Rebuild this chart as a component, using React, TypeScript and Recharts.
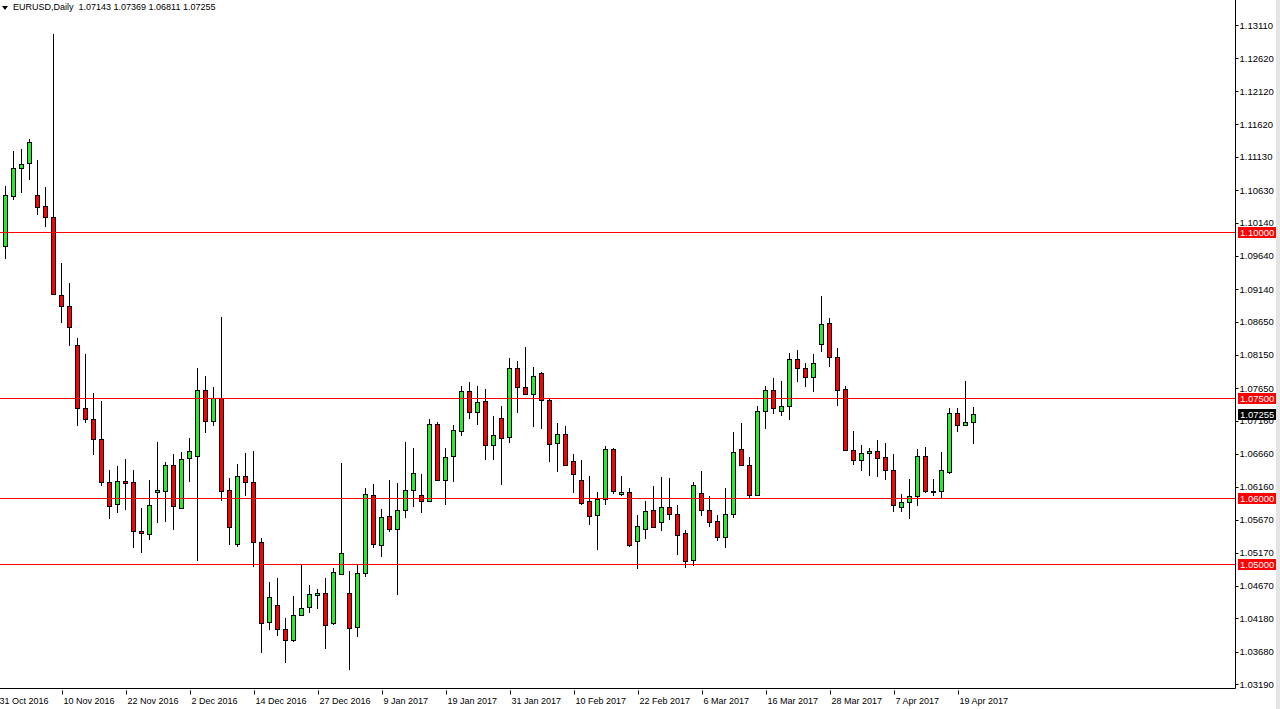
import React from "react";
import { ComposedChart, Bar, XAxis, YAxis, ReferenceLine } from "recharts";

// EURUSD daily, 31 Oct 2016 - 21 Apr 2017
const dates = [
  "31 Oct 2016",
  "1 Nov 2016", "2 Nov 2016", "3 Nov 2016", "4 Nov 2016", "7 Nov 2016", "8 Nov 2016", "9 Nov 2016", "10 Nov 2016", "11 Nov 2016",
  "14 Nov 2016", "15 Nov 2016", "16 Nov 2016", "17 Nov 2016", "18 Nov 2016", "21 Nov 2016", "22 Nov 2016", "23 Nov 2016", "24 Nov 2016", "25 Nov 2016",
  "28 Nov 2016", "29 Nov 2016", "30 Nov 2016", "1 Dec 2016", "2 Dec 2016", "5 Dec 2016", "6 Dec 2016", "7 Dec 2016", "8 Dec 2016", "9 Dec 2016",
  "12 Dec 2016", "13 Dec 2016", "14 Dec 2016", "15 Dec 2016", "16 Dec 2016", "19 Dec 2016", "20 Dec 2016", "21 Dec 2016", "22 Dec 2016", "23 Dec 2016",
  "27 Dec 2016", "28 Dec 2016", "29 Dec 2016", "30 Dec 2016", "3 Jan 2017", "4 Jan 2017", "5 Jan 2017", "6 Jan 2017", "9 Jan 2017", "10 Jan 2017",
  "11 Jan 2017", "12 Jan 2017", "13 Jan 2017", "16 Jan 2017", "17 Jan 2017", "18 Jan 2017", "19 Jan 2017", "20 Jan 2017", "23 Jan 2017", "24 Jan 2017",
  "25 Jan 2017", "26 Jan 2017", "27 Jan 2017", "30 Jan 2017", "31 Jan 2017", "1 Feb 2017", "2 Feb 2017", "3 Feb 2017", "6 Feb 2017", "7 Feb 2017",
  "8 Feb 2017", "9 Feb 2017", "10 Feb 2017", "13 Feb 2017", "14 Feb 2017", "15 Feb 2017", "16 Feb 2017", "17 Feb 2017", "20 Feb 2017", "21 Feb 2017",
  "22 Feb 2017", "23 Feb 2017", "24 Feb 2017", "27 Feb 2017", "28 Feb 2017", "1 Mar 2017", "2 Mar 2017", "3 Mar 2017", "6 Mar 2017", "7 Mar 2017",
  "8 Mar 2017", "9 Mar 2017", "10 Mar 2017", "13 Mar 2017", "14 Mar 2017", "15 Mar 2017", "16 Mar 2017", "17 Mar 2017", "20 Mar 2017", "21 Mar 2017",
  "22 Mar 2017", "23 Mar 2017", "24 Mar 2017", "27 Mar 2017", "28 Mar 2017", "29 Mar 2017", "30 Mar 2017", "31 Mar 2017", "3 Apr 2017", "4 Apr 2017",
  "5 Apr 2017", "6 Apr 2017", "7 Apr 2017", "10 Apr 2017", "11 Apr 2017", "12 Apr 2017", "13 Apr 2017", "14 Apr 2017", "17 Apr 2017", "18 Apr 2017",
  "19 Apr 2017", "20 Apr 2017", "21 Apr 2017",
];

const opens = [
  1.0977,
  1.09791, 1.10545, 1.10967, 1.11043, 1.1056, 1.10392, 1.10229, 1.09053, 1.0889, 1.083,
  1.07353, 1.07185, 1.06885, 1.06238, 1.05908, 1.06254, 1.06238, 1.055, 1.05455, 1.06086,
  1.06103, 1.06487, 1.05848, 1.06602, 1.06632, 1.07625, 1.07156, 1.075, 1.06108, 1.05294,
  1.06332, 1.06228, 1.05324, 1.04132, 1.04386, 1.04027, 1.03857, 1.04237, 1.04356, 1.04536,
  1.04566, 1.04117, 1.0485, 1.04566, 1.04057, 1.04865, 1.06033, 1.05284, 1.05719, 1.05524,
  1.05808, 1.06108, 1.06033, 1.05943, 1.07111, 1.06272, 1.06632, 1.07006, 1.07605, 1.0729,
  1.07455, 1.06796, 1.07201, 1.06916, 1.07949, 1.07665, 1.0756, 1.07874, 1.0747, 1.06826,
  1.06961, 1.06557, 1.06272, 1.05943, 1.05734, 1.05973, 1.06737, 1.06048, 1.06078, 1.05344,
  1.05524, 1.05808, 1.05629, 1.05853, 1.05748, 1.05464, 1.0506, 1.06063, 1.05808, 1.05644,
  1.05404, 1.05748, 1.06737, 1.06497, 1.06033, 1.07305, 1.0762, 1.07305, 1.0738, 1.08084,
  1.07949, 1.07815, 1.0831, 1.08625, 1.08115, 1.07635, 1.06715, 1.06565, 1.0667, 1.067,
  1.0661, 1.06415, 1.0586, 1.0594, 1.0603, 1.06625, 1.06105, 1.06105, 1.06385, 1.07275,
  1.07095, 1.07143,
];

const highs = [
  1.0995,
  1.10687, 1.11222, 1.11257, 1.11395, 1.11089, 1.10672, 1.12988, 1.09527, 1.09226, 1.08397,
  1.08157, 1.07582, 1.0745, 1.06422, 1.06478, 1.06574, 1.06422, 1.05836, 1.06259, 1.06844,
  1.06532, 1.06652, 1.06682, 1.06891, 1.07954, 1.07834, 1.0767, 1.08718, 1.06292, 1.06502,
  1.06667, 1.06697, 1.05394, 1.04736, 1.04795, 1.04182, 1.04511, 1.05, 1.04691, 1.04631,
  1.04795, 1.0494, 1.06527, 1.049, 1.0499, 1.06143, 1.06203, 1.05828, 1.06263, 1.06218,
  1.06831, 1.06742, 1.06353, 1.07186, 1.07146, 1.06752, 1.07086, 1.07685, 1.0774, 1.07685,
  1.07635, 1.07236, 1.07385, 1.08104, 1.08054, 1.08268, 1.07964, 1.07889, 1.07485, 1.07126,
  1.07081, 1.06662, 1.06572, 1.06322, 1.06078, 1.06781, 1.06752, 1.06322, 1.06138, 1.05734,
  1.05943, 1.06173, 1.06307, 1.06292, 1.05883, 1.05509, 1.06233, 1.06397, 1.06018, 1.05734,
  1.06138, 1.06981, 1.07126, 1.06617, 1.0738, 1.0768, 1.07799, 1.07754, 1.08174, 1.08219,
  1.08024, 1.0816, 1.09035, 1.087, 1.0825, 1.0768, 1.07005, 1.06795, 1.0675, 1.0687,
  1.06825, 1.0666, 1.0606, 1.06285, 1.06735, 1.06765, 1.06285, 1.0669, 1.07355, 1.0735,
  1.07755, 1.07369,
];

const lows = [
  1.097,
  1.09593, 1.10478, 1.10585, 1.10779, 1.10255, 1.10071, 1.09048, 1.08626, 1.0828, 1.07083,
  1.07119, 1.06641, 1.06177, 1.05674, 1.05765, 1.05811, 1.05241, 1.05164, 1.05358, 1.05617,
  1.05639, 1.05519, 1.05828, 1.06238, 1.0504, 1.06971, 1.07076, 1.05953, 1.05289, 1.0525,
  1.06028, 1.0495, 1.03663, 1.04007, 1.03917, 1.03513, 1.03827, 1.04237, 1.04262, 1.04321,
  1.03723, 1.04082, 1.04835, 1.03408, 1.03902, 1.048, 1.05235, 1.051, 1.05489, 1.04531,
  1.05699, 1.05858, 1.05774, 1.05943, 1.06262, 1.05883, 1.06238, 1.06926, 1.07181, 1.07091,
  1.06572, 1.06567, 1.06193, 1.06821, 1.0727, 1.07545, 1.07061, 1.07031, 1.06537, 1.06387,
  1.06477, 1.06063, 1.05893, 1.05594, 1.0521, 1.05883, 1.06048, 1.06018, 1.05254, 1.04925,
  1.05374, 1.05549, 1.05504, 1.05659, 1.0513, 1.0494, 1.0497, 1.05729, 1.05564, 1.05339,
  1.05235, 1.05699, 1.06497, 1.05988, 1.06018, 1.07036, 1.0726, 1.07231, 1.07171, 1.0774,
  1.07665, 1.0759, 1.0819, 1.0796, 1.0738, 1.067, 1.0649, 1.064, 1.06325, 1.0631,
  1.06265, 1.05785, 1.05785, 1.0568, 1.05875, 1.06075, 1.06025, 1.06, 1.06355, 1.06985,
  1.0708, 1.06811,
];

const closes = [
  1.099,
  1.1055, 1.10967, 1.11028, 1.11359, 1.10377, 1.10229, 1.09063, 1.0889, 1.0857, 1.07353,
  1.07185, 1.06885, 1.06238, 1.05877, 1.06254, 1.06223, 1.055, 1.0547, 1.05892, 1.06116,
  1.06487, 1.05868, 1.06587, 1.06707, 1.07625, 1.07156, 1.075, 1.06103, 1.05564, 1.06332,
  1.06228, 1.05324, 1.04117, 1.04506, 1.04027, 1.03862, 1.04237, 1.04341, 1.04551, 1.04566,
  1.04087, 1.0488, 1.05165, 1.04042, 1.04865, 1.06048, 1.05299, 1.05704, 1.05524, 1.05808,
  1.06108, 1.06377, 1.05943, 1.07111, 1.06272, 1.06617, 1.07021, 1.07605, 1.0729, 1.0744,
  1.06796, 1.06946, 1.06901, 1.07949, 1.07665, 1.0756, 1.07829, 1.0747, 1.06811, 1.06961,
  1.06492, 1.06362, 1.05913, 1.05719, 1.05973, 1.06737, 1.06093, 1.06078, 1.05284, 1.05569,
  1.05794, 1.05564, 1.05853, 1.05748, 1.05444, 1.05045, 1.06183, 1.05808, 1.05629, 1.05404,
  1.05748, 1.06692, 1.06497, 1.06033, 1.07305, 1.0762, 1.0735, 1.0738, 1.08084, 1.07949,
  1.07814, 1.08025, 1.0861, 1.08115, 1.0762, 1.06715, 1.06565, 1.0667, 1.067, 1.06595,
  1.06415, 1.0589, 1.0594, 1.0603, 1.06625, 1.061, 1.0609, 1.06415, 1.07275, 1.07095,
  1.0714, 1.07255,
];

const priceTicks = [
  1.0319, 1.0368, 1.0418, 1.0467, 1.0517, 1.0567, 1.0616, 1.0666, 1.0716, 1.0765, 1.0815,
  1.0865, 1.0914, 1.0964, 1.1014, 1.1063, 1.1113, 1.1162, 1.1212, 1.1262, 1.1311,
];
const dateTicks = [0, 8, 16, 24, 32, 40, 48, 56, 64, 72, 80, 88, 96, 104, 112, 120];
const levels = [1.1, 1.075, 1.06, 1.05];

const FONT = "'Liberation Sans', Arial, sans-serif";
const UP = "#22ee22";
const DOWN = "#ff0000";

const data = dates.map((date, i) => ({
  i,
  date,
  open: opens[i],
  high: highs[i],
  low: lows[i],
  close: closes[i],
  range: [lows[i], highs[i]],
}));

const last = data[data.length - 1];

const Candle = (props: any) => {
  const { x, y, width, height, payload } = props;
  if (!payload || height == null) return null;
  const { open, close, high, low } = payload;
  const cx = Math.floor(x + width / 2) + 0.5;
  const k = height / (high - low);
  const top = Math.round(y + (high - Math.max(open, close)) * k);
  let bot = Math.round(y + (high - Math.min(open, close)) * k);
  if (bot - top < 1) bot = top + 1;
  return (
    <g>
      <line x1={cx} x2={cx} y1={Math.round(y)} y2={Math.round(y + height)} stroke="#000" strokeWidth={1} />
      <rect
        x={cx - 2}
        y={top + 0.5}
        width={4}
        height={bot - top}
        fill={close >= open ? UP : DOWN}
        stroke="#000"
        strokeWidth={1}
      />
    </g>
  );
};

const DateTick = (props: any) => {
  const { x, y, payload } = props;
  const px = Math.floor(x) + 0.5;
  return (
    <g>
      <line x1={px} x2={px} y1={y} y2={y + 4} stroke="#000" />
      <text x={px + 1} y={y + 13} fontSize={9} fontFamily={FONT} fill="#000">
        {dates[payload.value]}
      </text>
    </g>
  );
};

const PriceTick = (props: any) => {
  const { x, y, payload } = props;
  const py = Math.round(y) + 0.5;
  return (
    <g>
      <line x1={x} x2={x + 3} y1={py} y2={py} stroke="#000" />
      <text x={x + 4} y={y + 3.5} fontSize={9.5} fontFamily={FONT} fill="#000">
        {payload.value.toFixed(5)}
      </text>
    </g>
  );
};

const LevelLine = (props: any) => {
  const { x1, x2, y1 } = props;
  if (y1 == null) return null;
  const yy = Math.round(y1) + 0.5;
  return <line x1={x1} x2={x2} y1={yy} y2={yy} stroke={props.stroke} strokeWidth={1} />;
};

const PriceBox = (props: any) => {
  const { viewBox, text, bg } = props;
  if (!viewBox) return null;
  const right = Math.round(viewBox.x + viewBox.width);
  const yy = Math.round(viewBox.y);
  return (
    <g>
      <rect x={right + 2} y={yy - 5} width={39} height={11} fill={bg} />
      <text x={right + 4} y={yy + 4} fontSize={9.5} fontFamily={FONT} fill="#fff">
        {text}
      </text>
    </g>
  );
};

const App = () => {
  return (
    <div
      style={{
        position: "absolute",
        left: 0,
        top: 0,
        width: 1280,
        height: 709,
        background: "#fff",
        overflow: "hidden",
      }}
    >
      <ComposedChart
        width={1276}
        height={709}
        data={data}
        margin={{ top: 0, right: 0, left: 0, bottom: 0 }}
      >
        <XAxis
          dataKey="i"
          type="number"
          domain={[0.25, 154.6875]}
          allowDataOverflow
          ticks={dateTicks}
          interval={0}
          tick={<DateTick />}
          tickLine={false}
          tickSize={0}
          axisLine={{ stroke: "#000" }}
          height={20.5}
        />
        <YAxis
          type="number"
          orientation="right"
          domain={[1.03125, 1.13494]}
          allowDataOverflow
          ticks={priceTicks}
          interval={0}
          tick={<PriceTick />}
          tickLine={false}
          tickSize={0}
          tickMargin={0}
          axisLine={{ stroke: "#000" }}
          width={40.5}
        />
        <Bar dataKey="range" barSize={5} shape={<Candle />} isAnimationActive={false} />
        {levels.map((lv) => (
          <ReferenceLine
            key={lv}
            y={lv}
            stroke="#ff0000"
            shape={<LevelLine />}
            label={<PriceBox text={lv.toFixed(5)} bg="#ff0000" />}
          />
        ))}
        <ReferenceLine
          y={last.close}
          stroke="none"
          label={<PriceBox text={last.close.toFixed(5)} bg="#000" />}
        />
      </ComposedChart>
      <div
        style={{
          position: "absolute",
          left: 2,
          top: 2,
          fontFamily: FONT,
          fontSize: 9,
          lineHeight: "10px",
          whiteSpace: "pre",
          color: "#000",
        }}
      >
        <svg width={8} height={8} style={{ verticalAlign: "middle", marginRight: 3 }}>
          <polygon points="0,2 6,2 3,6" fill="#000" />
        </svg>
        {`EURUSD,Daily  ${last.open.toFixed(5)} ${last.high.toFixed(5)} ${last.low.toFixed(5)} ${last.close.toFixed(5)}`}
      </div>
      <div
        style={{
          position: "absolute",
          left: 1276,
          top: 0,
          width: 4,
          height: 709,
          background: "#e4e4e4",
        }}
      />
    </div>
  );
};

export default App;
